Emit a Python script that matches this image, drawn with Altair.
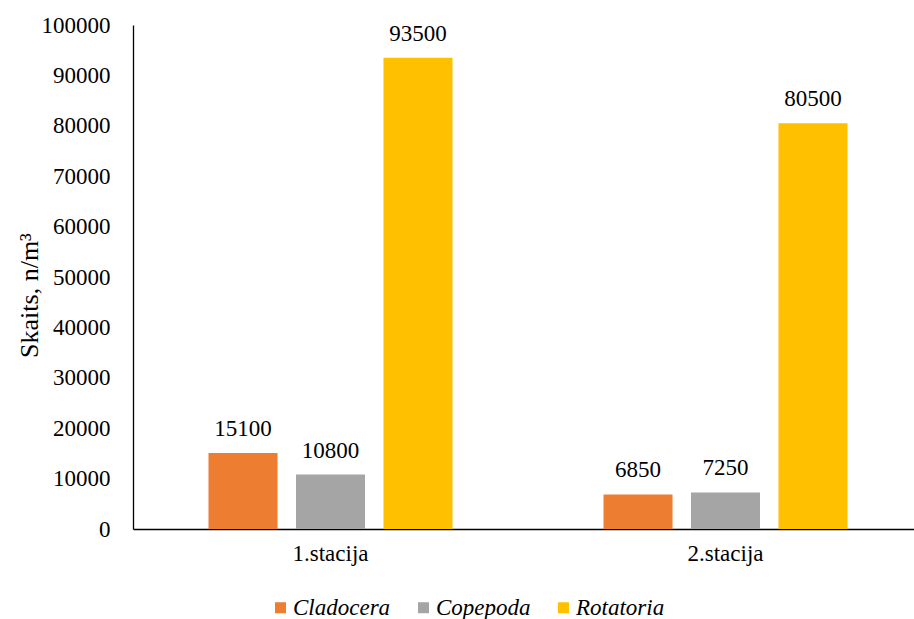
import altair as alt
import pandas as pd

stations = ["1.stacija", "2.stacija"]
groups = ["Cladocera", "Copepoda", "Rotatoria"]
cladocera = [15100, 6850]
copepoda = [10800, 7250]
rotatoria = [93500, 80500]
colors = ["#ED7D31", "#A5A5A5", "#FFC000"]
y_ticks = [0, 10000, 20000, 30000, 40000, 50000, 60000, 70000, 80000, 90000, 100000]

rows = []
for i, s in enumerate(stations):
    for g, vals in zip(groups, [cladocera, copepoda, rotatoria]):
        rows.append({"station": s, "group": g, "value": vals[i]})
df = pd.DataFrame(rows)

FONT = "'Times New Roman', 'Liberation Serif', Times, serif"
FS = 23

base = alt.Chart(df).encode(
    x=alt.X("station:N", sort=stations,
            scale=alt.Scale(paddingInner=0, paddingOuter=0),
            axis=alt.Axis(title=None, labelAngle=0, ticks=False, labelPadding=13,
                          domainColor="#000000", domainWidth=1.3,
                          labelFont=FONT, labelFontSize=FS, labelColor="#000000")),
    xOffset=alt.XOffset("group:N", sort=groups,
                        scale=alt.Scale(paddingInner=0.211, paddingOuter=0.863)),
    y=alt.Y("value:Q",
            scale=alt.Scale(domain=[0, 100000], nice=False),
            axis=alt.Axis(title="Skaits, n/m³", values=y_ticks, format="d",
                          grid=False, ticks=False, labelPadding=23,
                          domainColor="#000000", domainWidth=1.3,
                          labelFont=FONT, labelFontSize=FS, labelColor="#000000",
                          titleFont=FONT, titleFontSize=26, titleFontWeight="normal",
                          titleColor="#000000", titleAngle=-90,
                          titleX=-96, titleY=270, titleAlign="center",
                          titleBaseline="alphabetic")),
)

bars = base.mark_bar().encode(
    color=alt.Color("group:N", sort=groups,
                    scale=alt.Scale(domain=groups, range=colors),
                    legend=alt.Legend(title=None, orient="none", direction="horizontal",
                                      legendX=136, legendY=571, padding=0,
                                      symbolType="square", symbolSize=121,
                                      symbolStrokeWidth=0, labelOffset=1,
                                      columnPadding=21,
                                      labelFont=FONT, labelFontSize=FS,
                                      labelFontStyle="italic", labelColor="#000000",
                                      labelLimit=300))
)

labels = base.mark_text(baseline="alphabetic", dy=-17, font=FONT, fontSize=FS,
                        color="#000000").encode(
    text=alt.Text("value:Q", format="d")
)

chart = (bars + labels).properties(
    width=790, height=504,
    autosize=alt.AutoSizeParams(type="none"),
    padding={"left": 133, "top": 25, "right": -9, "bottom": 90},
).configure_view(stroke=None)

chart.save("out.html", embed_options={"renderer": "svg", "actions": False})
